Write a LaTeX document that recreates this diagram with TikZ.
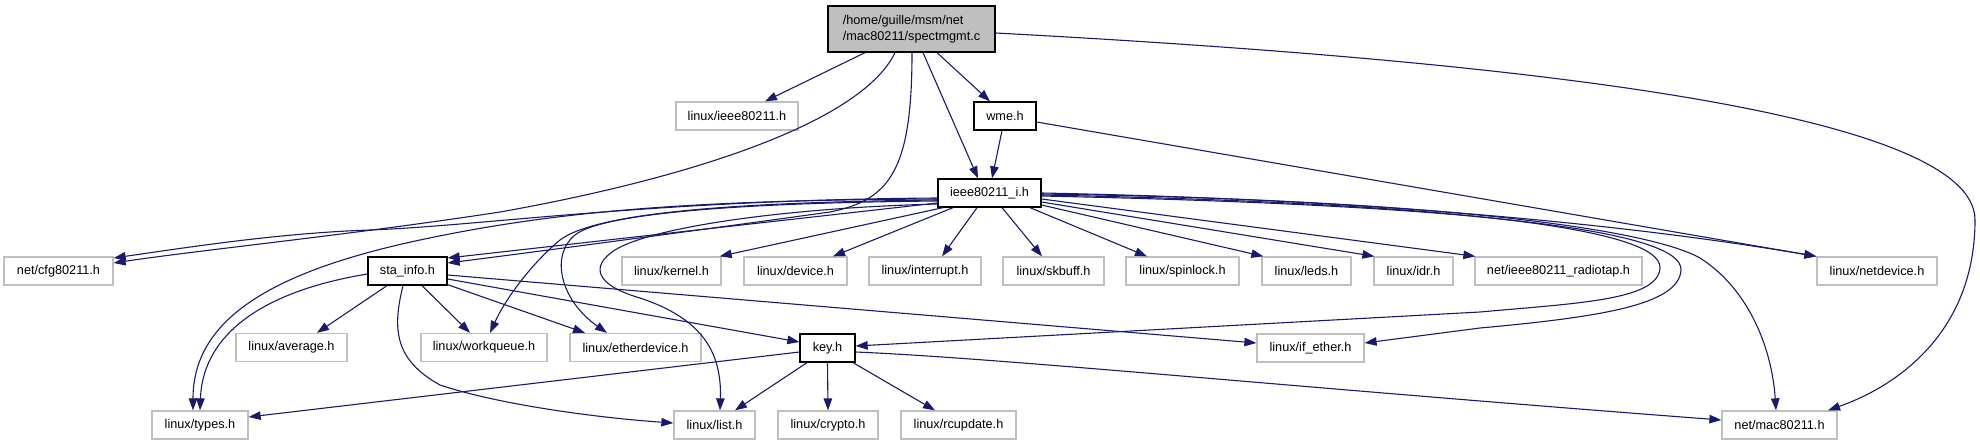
\documentclass[tikz,border=0pt]{standalone}
\usepackage{fontspec}
\setmainfont{Liberation Sans}
\usetikzlibrary{arrows.meta}
\definecolor{edgec}{HTML}{191970}
\definecolor{gborder}{HTML}{BFBFBF}
\definecolor{mainfill}{HTML}{BFBFBF}
\begin{document}
\begin{tikzpicture}[x=1pt,y=-1pt,
  every node/.style={font=\fontsize{12.7}{16}\selectfont, inner sep=0pt, minimum height=28pt},
  gbox/.style={draw=gborder, line width=1.3pt, fill=white, rectangle},
  bbox/.style={draw=black, line width=1.3pt, fill=white, rectangle},
  mbox/.style={draw=black, line width=1.3pt, fill=mainfill, rectangle},
  dep/.style={draw=edgec, line width=1.1pt, -{Triangle[length=12pt,width=8.5pt]}},
]
\useasboundingbox (0,0) rectangle (1980,445);

% nodes
\node[mbox, minimum width=167pt, minimum height=46pt, align=left] (main) at (911.5,29) {/home/guille/msm/net\\/mac80211/spectmgmt.c};
\node[gbox, minimum width=122pt] (lieee) at (737,116) {linux/ieee80211.h};
\node[bbox, minimum width=62pt] (wme) at (1005,116) {wme.h};
\node[bbox, minimum width=103pt] (ii) at (989.5,193) {ieee80211\_i.h};
\node[gbox, minimum width=109pt] (cfg) at (58.5,271) {net/cfg80211.h};
\node[bbox, minimum width=79pt] (sta) at (407.5,271) {sta\_info.h};
\node[gbox, minimum width=99pt] (kernel) at (671.5,271) {linux/kernel.h};
\node[gbox, minimum width=103pt] (device) at (795.5,271) {linux/device.h};
\node[gbox, minimum width=112pt] (interrupt) at (925,271) {linux/interrupt.h};
\node[gbox, minimum width=101pt] (skbuff) at (1053.5,271) {linux/skbuff.h};
\node[gbox, minimum width=113pt] (spinlock) at (1182.5,271) {linux/spinlock.h};
\node[gbox, minimum width=89pt] (leds) at (1306.5,271) {linux/leds.h};
\node[gbox, minimum width=79pt] (idr) at (1413.5,271) {linux/idr.h};
\node[gbox, minimum width=167pt] (radiotap) at (1558.5,271) {net/ieee80211\_radiotap.h};
\node[gbox, minimum width=120pt] (netdev) at (1877,271) {linux/netdevice.h};
\node[gbox, minimum width=111pt] (average) at (291.5,347.5) {linux/average.h};
\node[gbox, minimum width=126pt] (workq) at (484,347.5) {linux/workqueue.h};
\node[gbox, minimum width=131pt] (etherdev) at (635.5,347.5) {linux/etherdevice.h};
\node[bbox, minimum width=55pt] (key) at (827.5,348) {key.h};
\node[gbox, minimum width=107pt] (ifether) at (1310.5,348) {linux/if\_ether.h};
\node[gbox, minimum width=96pt] (types) at (200,425) {linux/types.h};
\node[gbox, minimum width=81pt] (list) at (714.5,425) {linux/list.h};
\node[gbox, minimum width=100pt] (crypto) at (828,425) {linux/crypto.h};
\node[gbox, minimum width=115pt] (rcu) at (958.5,425) {linux/rcupdate.h};
\node[gbox, minimum width=115pt] (mac) at (1779.5,425) {net/mac80211.h};

% main file edges
\draw[dep] ([xshift=-46.5pt]main.south) -- ([xshift=28pt]lieee.north);
\draw[dep] ([xshift=25.5pt]main.south) -- ([xshift=-15pt]wme.north);
\draw[dep] ([xshift=11.5pt]main.south) -- ([xshift=-11.5pt]ii.north);
\draw[dep] ([yshift=-4pt]main.east) .. controls (1500,60) and (1975,110) .. (1975,220) .. controls (1975,330) and (1900,385) .. ([xshift=48.5pt]mac.north);
\draw[dep] ([xshift=-16.5pt]main.south) .. controls (860,125) and (680,180) .. (500,212) .. controls (350,235) and (200,250) .. ([yshift=8pt]cfg.east);
\draw[dep] ([xshift=0.5pt]main.south) .. controls (912,170) and (890,200) .. (830,212) .. controls (700,230) and (550,250) .. ([yshift=8pt]sta.east);

% wme.h edges
\draw[dep] ([xshift=-3pt]wme.south) -- ([xshift=2.5pt]ii.north);
\draw[dep] ([yshift=-6pt]wme.east) -- (netdev.north west);

% ieee80211_i.h edges
\draw[dep] ([xshift=-46.5pt]ii.south) -- ([xshift=-2pt]kernel.north east);
\draw[dep] ([xshift=-36.5pt]ii.south) -- ([xshift=37.5pt]device.north);
\draw[dep] ([xshift=-12.5pt]ii.south) -- ([xshift=17pt]interrupt.north);
\draw[dep] ([xshift=12.5pt]ii.south) -- ([xshift=-11.5pt]skbuff.north);
\draw[dep] ([xshift=40.5pt]ii.south) -- ([xshift=-35.5pt]spinlock.north);
\draw[dep] ([yshift=-12pt]ii.east) -- ([xshift=2pt]leds.north west);
\draw[dep] ([yshift=-9pt]ii.east) -- ([xshift=1pt]idr.north west);
\draw[dep] ([yshift=-6pt]ii.east) -- ([xshift=1pt]radiotap.north west);
\draw[dep] (ii.east) .. controls (1400,200) and (1650,228) .. (netdev.north west);
\draw[dep] ([yshift=-1pt]ii.east) .. controls (1450,200) and (1650,230) .. (1700,258) .. controls (1750,290) and (1772,350) .. ([xshift=-3.5pt]mac.north);
\draw[dep] ([yshift=-2pt]ii.east) .. controls (1450,203) and (1662,228) .. (1660,268) .. controls (1658,300) and (1580,303) .. (1480,312) -- ([yshift=2pt]key.east);
\draw[dep] ([yshift=-3pt]ii.east) .. controls (1470,205) and (1683,230) .. (1681,270) .. controls (1679,305) and (1600,317) .. (1480,328) -- ([yshift=5pt]ifether.east);
\draw[dep] ([yshift=-5pt]ii.west) .. controls (650,200) and (480,226) .. (370,230) .. controls (280,233) and (190,247) .. ([yshift=13pt]cfg.east);
\draw[dep] ([yshift=-10pt]ii.west) -- ([yshift=13pt]sta.east);
\draw[dep] ([yshift=-6pt]ii.west) .. controls (700,200) and (560,210) .. (420,240) .. controls (270,272) and (193,320) .. ([xshift=-7pt]types.north);
\draw[dep] ([yshift=-7pt]ii.west) .. controls (760,202) and (600,210) .. (560,240) .. controls (530,265) and (505,300) .. ([xshift=6pt]workq.north);
\draw[dep] ([yshift=-8pt]ii.west) .. controls (720,203) and (600,215) .. (575,235) .. controls (550,255) and (560,300) .. ([xshift=-28.5pt]etherdev.north);
\draw[dep] ([yshift=-11pt]ii.west) .. controls (780,208) and (650,228) .. (615,250) .. controls (590,266) and (595,285) .. (640,298) .. controls (700,318) and (722,350) .. ([xshift=5.5pt]list.north);

% sta_info.h edges
\draw[dep] ([yshift=-3pt]sta.west) .. controls (270,290) and (203,330) .. (types.north);
\draw[dep] ([xshift=-20.5pt]sta.south) -- ([xshift=25.5pt]average.north);
\draw[dep] ([xshift=14.5pt]sta.south) -- ([xshift=-14pt]workq.north);
\draw[dep] ([yshift=1pt]sta.south east) -- ([xshift=-50.5pt]etherdev.north);
\draw[dep] ([yshift=-8pt]sta.east) -- ([yshift=6pt]key.west);
\draw[dep] ([yshift=-4pt]sta.east) -- ([yshift=5pt]ifether.west);
\draw[dep] ([xshift=-4.5pt]sta.south) .. controls (392,330) and (395,360) .. (440,385) .. controls (500,405) and (600,418) .. ([yshift=2pt]list.west);

% key.h edges
\draw[dep] ([yshift=-4pt]key.west) -- ([yshift=8pt]types.east);
\draw[dep] ([xshift=-20.5pt]key.south) -- ([xshift=20.5pt]list.north);
\draw[dep] (key.south) -- (crypto.north);
\draw[dep] ([xshift=25.5pt]key.south) -- ([xshift=-23.5pt]rcu.north);
\draw[dep] ([yshift=-4pt]key.east) .. controls (1000,358) and (1300,388) .. ([yshift=5pt]mac.west);
\end{tikzpicture}
\end{document}
